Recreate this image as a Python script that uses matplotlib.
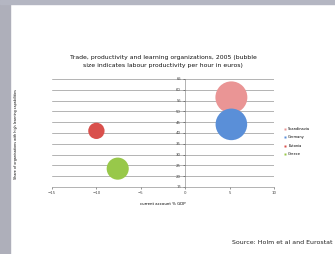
import matplotlib.pyplot as plt
from matplotlib.patches import Rectangle
from matplotlib.lines import Line2D

# Bubble data
countries = ["Scandinavia", "Germany", "Estonia", "Greece"]
current_account = [5.2, 5.2, -10.0, -7.6]
learning_share = [56.5, 44.0, 41.0, 23.5]
productivity = [46, 45, 12, 22]
colors = ["#ea9595", "#5a8fd8", "#d9504c", "#98c84a"]

y_ticks = [15, 20, 25, 30, 35, 40, 45, 50, 55, 60, 65]
x_ticks = [-15, -10, -5, 0, 5, 10]

fig = plt.figure(figsize=(3.35, 2.54), dpi=100)

# gray slide frame
fig.patches.append(Rectangle((0, 0), 10 / 335, 1, transform=fig.transFigure,
                             color="#aeafba", zorder=0))
fig.patches.append(Rectangle((0, 1 - 4 / 254), 1, 4 / 254, transform=fig.transFigure,
                             color="#b4b6c2", zorder=0))

ax = fig.add_axes([52 / 335, 1 - 187 / 254, 222 / 335, 108 / 254])

for c, x, y, p, col in zip(countries, current_account, learning_share, productivity, colors):
    ax.scatter(x, y, s=p * 11.5, color=col, zorder=3, edgecolors="none")

ax.set_xlim(-15, 10)
ax.set_ylim(15, 65)
ax.set_xticks(x_ticks)
ax.set_yticks(y_ticks)
ax.tick_params(labelsize=2.8, colors="#444444", length=1.5, width=0.4, pad=1.5)
ax.grid(axis="y", color="#8a8a8a", linewidth=0.45)
ax.set_axisbelow(True)

ax.spines["left"].set_position(("data", 0))
for s in ["top", "right"]:
    ax.spines[s].set_visible(False)
for s in ["left", "bottom"]:
    ax.spines[s].set_color("#888888")
    ax.spines[s].set_linewidth(0.45)

ax.set_xlabel("current account % GDP", fontsize=2.8)
ax.xaxis.set_label_coords(0.5, -0.14)
fig.text(16 / 335, 1 - 134 / 254, "Share of organisations with high learning capabilities",
         rotation=90, fontsize=2.4, ha="center", va="center")

ax.set_title("Trade, productivity and learning organizations, 2005 (bubble\n"
             "size indicates labour productivity per hour in euros)",
             fontsize=4.4, pad=9, linespacing=1.6, color="#111111")

handles = [Line2D([], [], marker="s", linestyle="none", markersize=2,
                  markerfacecolor=col, markeredgecolor="none") for col in colors]
ax.legend(handles, countries, loc="center left", bbox_to_anchor=(1.03, 0.42),
          fontsize=2.6, frameon=False, handlelength=0.8, handletextpad=0.4,
          labelspacing=1.2)

fig.text(333 / 335, 1 - 243 / 254, "Source: Holm et al and Eurostat",
         fontsize=4.5, ha="right", va="center", color="#222222")

fig.savefig("out.png", dpi=100)
